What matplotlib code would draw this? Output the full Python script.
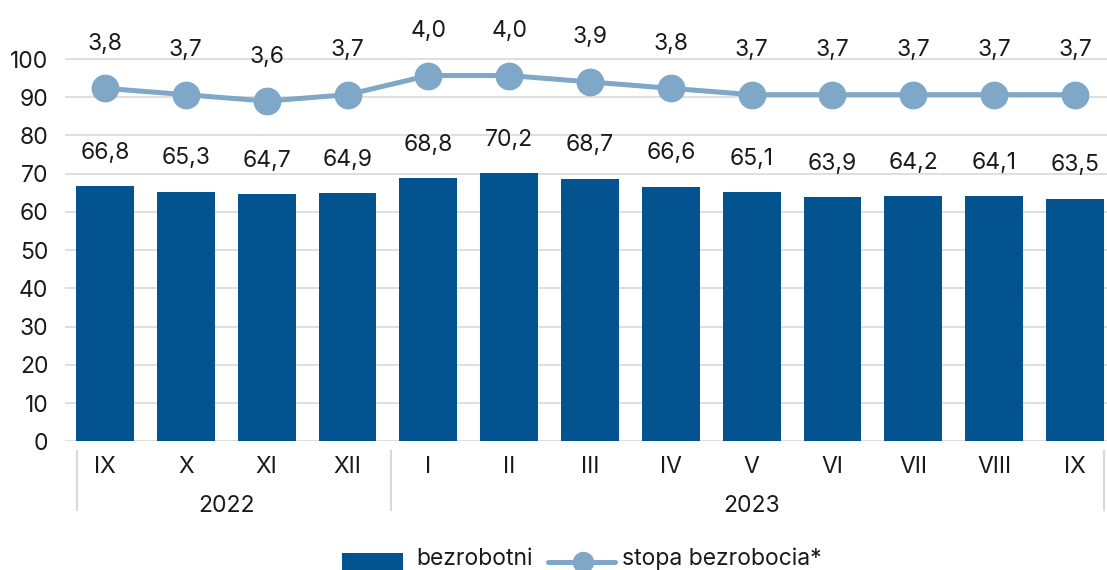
import matplotlib
matplotlib.use("Agg")
import matplotlib.pyplot as plt
from matplotlib.patches import Rectangle
from matplotlib.lines import Line2D
import matplotlib.transforms as mtransforms

plt.rcParams['font.family'] = ['Inter', 'DejaVu Sans']

months = ['IX', 'X', 'XI', 'XII', 'I', 'II', 'III', 'IV', 'V', 'VI', 'VII', 'VIII', 'IX']
years = ['2022', '2023']
year_counts = [4, 9]
bezrobotni = [66.8, 65.3, 64.7, 64.9, 68.8, 70.2, 68.7, 66.6, 65.1, 63.9, 64.2, 64.1, 63.5]
stopa = [3.8, 3.7, 3.6, 3.7, 4.0, 4.0, 3.9, 3.8, 3.7, 3.7, 3.7, 3.7, 3.7]
yticks = [0, 10, 20, 30, 40, 50, 60, 70, 80, 90, 100]

BAR = '#02538f'
LINE = '#7fa7c8'
GRID = '#d9d9d9'
TXT = '#1a1a1a'
FS = 16.5

W, H = 1107, 570
fig = plt.figure(figsize=(W / 100, H / 100), dpi=100)
ax = fig.add_axes([65 / W, (570 - 441.3) / H, (1107 - 65) / W, 420.5 / H])

x = list(range(len(months)))
ax.bar(x, bezrobotni, width=0.717, color=BAR, zorder=2)
ax.set_xlim(-0.495, 12.396)
ax.set_ylim(0, 110)
ax.set_yticks(yticks)
ax.set_yticklabels([str(v) for v in yticks], fontsize=FS, color=TXT)
ax.tick_params(axis='y', length=0, pad=12)
ax.set_xticks([])
ax.grid(axis='y', color=GRID, linewidth=1.2, zorder=0)
for s in ax.spines.values():
    s.set_visible(False)

for xi, v in zip(x, bezrobotni):
    ax.annotate(f"{v:.1f}".replace('.', ','), (xi, v), xytext=(0, 24),
                textcoords='offset points', ha='center', va='center',
                fontsize=FS, color=TXT)

ax2 = ax.twinx()
ax2.set_ylim(3.6 - 89 / 16.7, 3.6 + (110 - 89) / 16.7)
ax2.plot(x, stopa, color=LINE, linewidth=3.6, marker='o', markersize=19, zorder=3)
ax2.set_yticks([])
for s in ax2.spines.values():
    s.set_visible(False)
for xi, v in zip(x, stopa):
    ax2.annotate(f"{v:.1f}".replace('.', ','), (xi, v), xytext=(0, 32),
                 textcoords='offset points', ha='center', va='center',
                 fontsize=FS, color=TXT)

# category axis labels
tr = mtransforms.blended_transform_factory(ax.transData, fig.transFigure)
def fy(p):
    return 1 - p / H
for xi, m in zip(x, months):
    ax.text(xi, fy(467), m, transform=tr, ha='center', va='center', fontsize=FS, color=TXT)

seps = [-0.35]
start = 0
for yr, n in zip(years, year_counts):
    end = start + n - 1
    ax.text((start + end) / 2, fy(506), yr, transform=tr, ha='center', va='center',
            fontsize=FS, color=TXT)
    start += n
    seps.append(start - 0.46 if start < len(months) else 12.36)
for sx in seps:
    ax.add_line(Line2D([sx, sx], [fy(451), fy(510)], transform=tr, color=GRID,
                       linewidth=1.5, clip_on=False))

# legend (manual)
fig.patches.append(Rectangle((342 / W, fy(576)), 61 / W, 23 / H, transform=fig.transFigure,
                             facecolor=BAR, edgecolor='none'))
fig.text(416 / W, fy(559), 'bezrobotni', ha='left', va='center', fontsize=FS, color=TXT)
fig.lines.append(Line2D([548 / W, 615 / W], [fy(562), fy(562)], transform=fig.transFigure,
                        color=LINE, linewidth=3.6, solid_capstyle='round'))
fig.lines.append(Line2D([583 / W], [fy(562)], transform=fig.transFigure, color=LINE,
                        marker='o', markersize=14.4, linestyle='none'))
fig.text(622 / W, fy(559), 'stopa bezrobocia*', ha='left', va='center', fontsize=FS, color=TXT)

fig.savefig('out.png', dpi=100)
